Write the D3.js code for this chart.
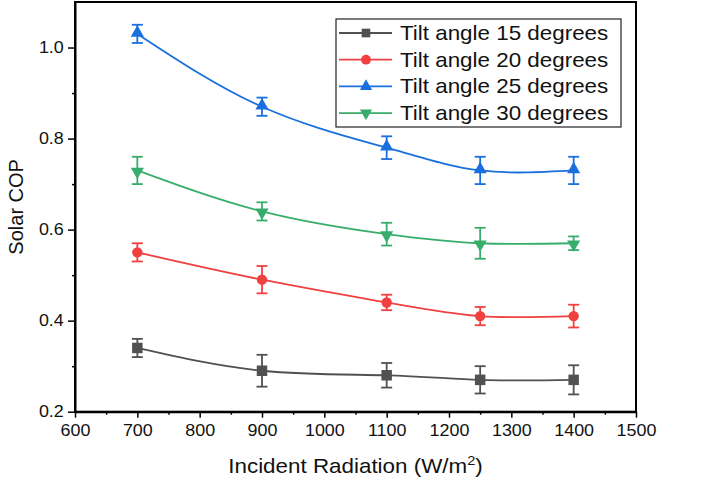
<!DOCTYPE html>
<html>
<head>
<meta charset="utf-8">
<script src="https://cdn.jsdelivr.net/npm/d3@7"></script>
<style>
  body { margin: 0; background: #fff; }
  text { font-family: "Liberation Sans", Arial, sans-serif; fill: #111; }
</style>
</head>
<body>
<div id="chart"></div>
<script>
// data
var radiation = [700, 900, 1100, 1250, 1400];
var seriesNames = ['Tilt angle 15 degrees', 'Tilt angle 20 degrees', 'Tilt angle 25 degrees', 'Tilt angle 30 degrees'];
var tilt15 = [0.34, 0.29, 0.28, 0.27, 0.27];
var tilt20 = [0.55, 0.49, 0.44, 0.41, 0.41];
var tilt25 = [1.03, 0.87, 0.78, 0.73, 0.73];
var tilt30 = [0.73, 0.64, 0.59, 0.57, 0.57];
var err15 = [0.02, 0.035, 0.027, 0.03, 0.032];
var err20 = [0.02, 0.03, 0.017, 0.02, 0.025];
var err25 = [0.02, 0.02, 0.025, 0.03, 0.03];
var err30 = [0.03, 0.02, 0.025, 0.034, 0.015];
var xTicks = [600, 700, 800, 900, 1000, 1100, 1200, 1300, 1400, 1500];
var yTicks = [0.2, 0.4, 0.6, 0.8, 1.0];

var colors = ['#515151', '#F14040', '#1A6FDF', '#37AD6B'];
var shapes = ['square', 'circle', 'triangle', 'triangleDown'];

var series = [tilt15, tilt20, tilt25, tilt30].map(function(vals, i) {
  var errs = [err15, err20, err25, err30][i];
  return {
    name: seriesNames[i],
    color: colors[i],
    shape: shapes[i],
    points: vals.map(function(v, j) { return { x: radiation[j], y: v, e: errs[j] }; })
  };
});

var width = 726, height = 479;
var mLeft = 75, mRight = 636, mTop = 2, mBottom = 411.7;
var stretch = 'scale(1.12,1)';

var svg = d3.select('#chart').append('svg')
  .attr('width', width)
  .attr('height', height);

var x = d3.scaleLinear().domain([600, 1500]).range([mLeft, mRight]);
var y = d3.scaleLinear().domain([0.2, 1.1]).range([mBottom, mTop]);

// minor ticks
svg.append('g')
  .attr('transform', 'translate(0,' + mBottom + ')')
  .call(d3.axisBottom(x).tickValues(d3.range(650, 1500, 100)).tickSize(3).tickFormat(''))
  .call(function(g) { g.select('.domain').remove(); })
  .selectAll('line').attr('stroke-width', 1.5);
svg.append('g')
  .attr('transform', 'translate(' + mLeft + ',0)')
  .call(d3.axisLeft(y).tickValues([0.3, 0.5, 0.7, 0.9]).tickSize(3).tickFormat(''))
  .call(function(g) { g.select('.domain').remove(); })
  .selectAll('line').attr('stroke-width', 1.5);

// major axes
var xAxis = svg.append('g')
  .attr('transform', 'translate(0,' + mBottom + ')')
  .call(d3.axisBottom(x).tickValues(xTicks).tickSize(6).tickPadding(7).tickSizeOuter(0)
    .tickFormat(d3.format('d')));
xAxis.selectAll('text').attr('font-size', 16).attr('transform', stretch)
  .style('font-family', '"Liberation Sans", Arial, sans-serif').attr('fill', '#111');

var yAxis = svg.append('g')
  .attr('transform', 'translate(' + mLeft + ',0)')
  .call(d3.axisLeft(y).tickValues(yTicks).tickSize(7).tickPadding(3).tickSizeOuter(0)
    .tickFormat(d3.format('.1f')));
yAxis.selectAll('text').attr('font-size', 16).attr('transform', stretch)
  .style('font-family', '"Liberation Sans", Arial, sans-serif').attr('fill', '#111');

svg.selectAll('.domain').attr('stroke-width', 2);
svg.selectAll('.tick line').attr('stroke-width', 1.5);

// frame
svg.append('rect')
  .attr('x', mLeft).attr('y', mTop)
  .attr('width', mRight - mLeft).attr('height', mBottom - mTop)
  .attr('fill', 'none').attr('stroke', '#000').attr('stroke-width', 2);

// axis titles
var xt = svg.append('text')
  .attr('transform', 'translate(' + ((mLeft + mRight) / 2) + ',473) ' + stretch)
  .attr('text-anchor', 'middle')
  .attr('font-size', 20);
xt.append('tspan').text('Incident Radiation (W/m');
xt.append('tspan').attr('dy', -8).attr('font-size', 13).text('2');
xt.append('tspan').attr('dy', 8).text(')');

svg.append('text')
  .attr('transform', 'translate(23,' + ((mTop + mBottom) / 2) + ') rotate(-90)')
  .attr('text-anchor', 'middle')
  .attr('font-size', 20)
  .text('Solar COP');

function symbolFor(shape, size) {
  var t = { square: d3.symbolSquare, circle: d3.symbolCircle, triangle: d3.symbolTriangle, triangleDown: d3.symbolTriangle }[shape];
  return d3.symbol().type(t).size(size)();
}

var line = d3.line()
  .x(function(d) { return x(d.x); })
  .y(function(d) { return y(d.y); })
  .curve(d3.curveNatural);

var groups = svg.selectAll('.series')
  .data(series)
  .enter().append('g')
  .attr('class', 'series');

groups.append('path')
  .attr('d', function(d) { return line(d.points); })
  .attr('fill', 'none')
  .attr('stroke', function(d) { return d.color; })
  .attr('stroke-width', 1.8);

// error bars and markers
groups.each(function(s) {
  var g = d3.select(this);
  var bars = g.selectAll('.err').data(s.points).enter().append('g');
  bars.append('line')
    .attr('x1', function(d) { return x(d.x); })
    .attr('x2', function(d) { return x(d.x); })
    .attr('y1', function(d) { return y(d.y + d.e); })
    .attr('y2', function(d) { return y(d.y - d.e); });
  bars.append('line')
    .attr('x1', function(d) { return x(d.x) - 5.5; })
    .attr('x2', function(d) { return x(d.x) + 5.5; })
    .attr('y1', function(d) { return y(d.y + d.e); })
    .attr('y2', function(d) { return y(d.y + d.e); });
  bars.append('line')
    .attr('x1', function(d) { return x(d.x) - 5.5; })
    .attr('x2', function(d) { return x(d.x) + 5.5; })
    .attr('y1', function(d) { return y(d.y - d.e); })
    .attr('y2', function(d) { return y(d.y - d.e); });
  bars.selectAll('line').attr('stroke', s.color).attr('stroke-width', 1.8);

  var size = { square: 110, circle: 85, triangle: 75, triangleDown: 75 }[s.shape];
  g.selectAll('.mark').data(s.points).enter().append('path')
    .attr('d', symbolFor(s.shape, size))
    .attr('transform', function(d) {
      var r = s.shape === 'triangleDown' ? ' rotate(180)' : '';
      var dy = s.shape === 'triangle' ? -1 : (s.shape === 'triangleDown' ? 1 : 0);
      return 'translate(' + x(d.x) + ',' + (y(d.y) + dy) + ')' + r;
    })
    .attr('fill', s.color);
});

// legend
var legend = svg.append('g');
legend.append('rect')
  .attr('x', 336).attr('y', 19)
  .attr('width', 285).attr('height', 108)
  .attr('fill', '#fff').attr('stroke', '#222').attr('stroke-width', 1.2);

var items = legend.selectAll('.item')
  .data(series)
  .enter().append('g')
  .attr('transform', function(d, i) { return 'translate(0,' + (33 + i * 26.7) + ')'; });

items.append('line')
  .attr('x1', 339).attr('x2', 392)
  .attr('stroke', function(d) { return d.color; })
  .attr('stroke-width', 1.8);
items.append('path')
  .attr('d', function(d) {
    var size = { square: 75, circle: 75, triangle: 65, triangleDown: 65 }[d.shape];
    return symbolFor(d.shape, size);
  })
  .attr('transform', function(d) {
    return 'translate(366,0)' + (d.shape === 'triangleDown' ? ' rotate(180)' : '');
  })
  .attr('fill', function(d) { return d.color; });
items.append('text')
  .attr('transform', 'translate(400,7) ' + stretch)
  .attr('font-size', 20)
  .text(function(d) { return d.name; });
</script>
</body>
</html>
